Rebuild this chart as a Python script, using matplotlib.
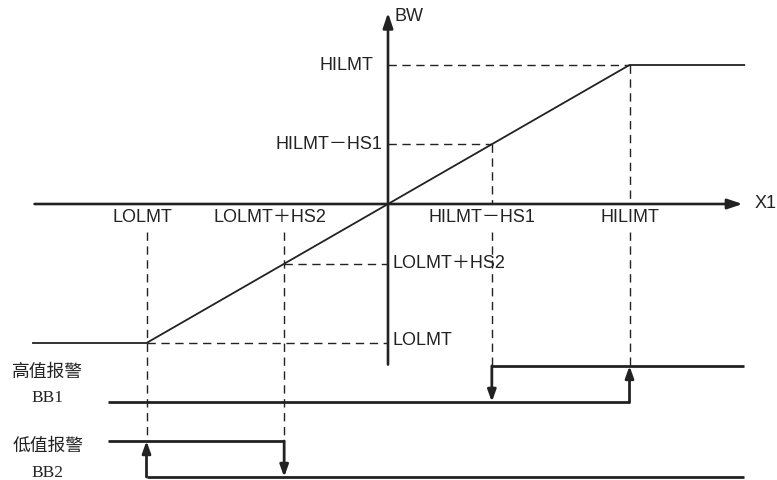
import matplotlib
matplotlib.use("Agg")
import matplotlib.pyplot as plt

# thresholds (relative units, origin at axis crossing)
LOLMT = -100
HILMT = 100
HS1 = 57
HS2 = 57
x_ticks = [LOLMT, LOLMT + HS2, HILMT - HS1, HILMT]
x_labels = ["LOLMT", "LOLMT\uff0bHS2", "HILMT\uff0dHS1", "HILIMT"]
y_ticks = [HILMT, HILMT - HS1, LOLMT + HS2, LOLMT]
y_labels = ["HILMT", "HILMT\uff0dHS1", "LOLMT\uff0bHS2", "LOLMT"]

# alarm signal levels (low, high)
BB1_LEVELS = [-142.4, -116.5]
BB2_LEVELS = [-196.4, -170.5]
X_MIN, X_MAX = -147, 147.5

SANS = ["Liberation Sans", "Noto Sans CJK SC"]
SERIF = ["Liberation Serif", "Noto Sans CJK SC"]
C = "#222222"
FS = 13

fig = plt.figure(figsize=(7.77, 4.8), dpi=100)
ax = fig.add_axes([0, 0, 1, 1])
ax.set_xlim(-388 / 2.415, 389 / 2.415)
ax.set_ylim(-276 / 1.39, 204 / 1.39)
ax.axis("off")

dash = dict(color=C, lw=1.0, ls=(0, (6, 4)))

# transfer characteristic BW vs X1
ax.plot([X_MIN, LOLMT, HILMT, X_MAX], [LOLMT, LOLMT, HILMT, HILMT], color=C, lw=1.3)

# axes with arrows
ax.annotate("", xy=(148, 0), xytext=(X_MIN - 0.5, 0),
            arrowprops=dict(arrowstyle="-|>,head_length=0.9,head_width=0.3", color=C, lw=1.9))
ax.annotate("", xy=(0, 139.6), xytext=(0, -117.5),
            arrowprops=dict(arrowstyle="-|>,head_length=0.9,head_width=0.3", color=C, lw=1.9))
ax.text(152, 0, "X1", fontsize=FS, family=SANS, va="center", ha="left", color=C)
ax.text(2.5, 135, "BW", fontsize=FS, family=SANS, va="center", ha="left", color=C)

# horizontal dashed guides
ax.plot([0, HILMT], [HILMT, HILMT], **dash)
ax.plot([0, HILMT - HS1], [HILMT - HS1, HILMT - HS1], **dash)
ax.plot([LOLMT + HS2, 0], [LOLMT + HS2, LOLMT + HS2], **dash)
ax.plot([LOLMT, 0], [LOLMT, LOLMT], **dash)

# vertical dashed guides
ax.plot([HILMT, HILMT], [HILMT, 0], **dash)
ax.plot([HILMT - HS1, HILMT - HS1], [HILMT - HS1, 0], **dash)
ax.plot([HILMT, HILMT], [-20, BB1_LEVELS[1]], **dash)
ax.plot([HILMT - HS1, HILMT - HS1], [-20, BB1_LEVELS[1]], **dash)
ax.plot([LOLMT, LOLMT], [-20, BB2_LEVELS[1]], **dash)
ax.plot([LOLMT + HS2, LOLMT + HS2], [-20, BB2_LEVELS[1]], **dash)

# tick labels
x_label_pos = [LOLMT - 1.5, LOLMT + HS2 - 6, HILMT - HS1 - 4, HILMT]
for xp, lab in zip(x_label_pos, x_labels):
    ax.text(xp, -9.4, lab, fontsize=FS, family=SANS, ha="center", va="center", color=C)
ax.text(-6.2, HILMT, y_labels[0], fontsize=FS, family=SANS, ha="right", va="center", color=C)
ax.text(-2.5, HILMT - HS1, y_labels[1], fontsize=FS, family=SANS, ha="right", va="center", color=C)
ax.text(2.0, LOLMT + HS2, y_labels[2], fontsize=FS, family=SANS, ha="left", va="center", color=C)
ax.text(2.0, LOLMT + 1.5, y_labels[3], fontsize=FS, family=SANS, ha="left", va="center", color=C)

sig = dict(color=C, lw=2.0, solid_capstyle="butt")
arr = dict(arrowstyle="-|>,head_length=0.7,head_width=0.25", color=C, lw=2.0,
           shrinkA=0, shrinkB=0)

# BB1 high alarm
lo, hi = BB1_LEVELS
ax.plot([-115.9, HILMT], [lo, lo], **sig)
ax.plot([HILMT - HS1, X_MAX], [hi, hi], **sig)
ax.annotate("", xy=(HILMT, hi), xytext=(HILMT, lo), arrowprops=arr)
ax.annotate("", xy=(HILMT - HS1, lo), xytext=(HILMT - HS1, hi), arrowprops=arr)

# BB2 low alarm
lo, hi = BB2_LEVELS
ax.plot([-115.9, LOLMT + HS2], [hi, hi], **sig)
ax.plot([LOLMT, X_MAX], [lo, lo], **sig)
ax.annotate("", xy=(LOLMT, hi), xytext=(LOLMT, lo), arrowprops=arr)
ax.annotate("", xy=(LOLMT + HS2, lo), xytext=(LOLMT + HS2, hi), arrowprops=arr)

# signal names
ax.text(-140.9, -121.0, "高值报警", fontsize=12.8, family=SERIF, ha="center", va="center", color=C)
ax.text(-141.0, -139.8, "BB1", fontsize=12.5, family=SERIF, ha="center", va="center", color=C)
ax.text(-140.9, -174.5, "低值报警", fontsize=12.8, family=SERIF, ha="center", va="center", color=C)
ax.text(-141.0, -193.2, "BB2", fontsize=12.5, family=SERIF, ha="center", va="center", color=C)

fig.savefig("out.png", dpi=100, facecolor="white")
